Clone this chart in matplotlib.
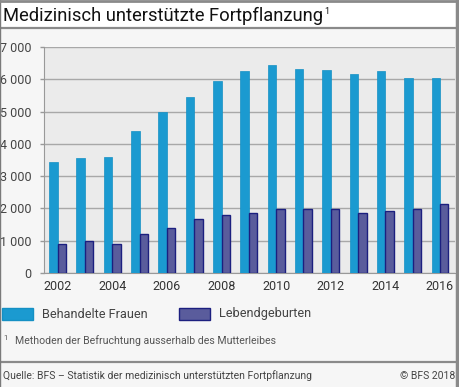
import matplotlib.pyplot as plt
import numpy as np
from matplotlib.patches import Rectangle
from matplotlib.lines import Line2D

# Daten
years = list(range(2002, 2017))
behandelte_frauen = [3450, 3550, 3590, 4390, 4975, 5460, 5935, 6265, 6450,
                     6325, 6295, 6170, 6245, 6040, 6030]
lebendgeburten = [890, 990, 890, 1215, 1395, 1660, 1795, 1870, 1980,
                  1980, 1980, 1870, 1930, 1980, 2135]
y_ticks = [0, 1000, 2000, 3000, 4000, 5000, 6000, 7000]
x_tick_years = list(range(2002, 2017, 2))

plt.rcParams['font.family'] = ['Roboto', 'DejaVu Sans']

fig = plt.figure(figsize=(4.6, 3.87), dpi=100)
fig.patch.set_facecolor('#f6f6f6')

# Titelbereich weiss
fig.add_artist(Rectangle((0, 1 - 28 / 387), 1, 28 / 387, transform=fig.transFigure,
                         facecolor='white', edgecolor='none', zorder=0))
title = fig.text(3 / 460, 1 - 16 / 387, 'Medizinisch unterstützte Fortpflanzung',
                 fontsize=13.2, color='#111111', va='center', ha='left')
fig.canvas.draw()
tb = title.get_window_extent()
fig.text((tb.x1 + 1) / 460, 1 - 11 / 387, '1', fontsize=6.5, color='#111111',
         va='center', ha='left')

# Trennlinien und Rahmen
for yy in [28, 362]:
    fig.add_artist(Line2D([0, 1], [1 - yy / 387] * 2, transform=fig.transFigure,
                          color='#8a8a8a', lw=1.6))
fig.add_artist(Line2D([0.4 / 460, 0.4 / 460], [0, 1], transform=fig.transFigure,
                      color='#7a7a7a', lw=1.0))
fig.add_artist(Line2D([457.5 / 460, 457.5 / 460], [0, 1], transform=fig.transFigure,
                      color='#8a8a8a', lw=2.5))
fig.add_artist(Line2D([0, 1], [1 - 0.8 / 387] * 2, transform=fig.transFigure,
                      color='#8a8a8a', lw=2))

ax = fig.add_axes([44 / 460, 1 - 273 / 387, (455 - 44) / 460, (273 - 47) / 387])
ax.set_facecolor('#ebebeb')

x = np.array(years)
w = 0.31
ax.bar(x - w / 2, behandelte_frauen, width=w, color='#1b9ad0',
       edgecolor='#1590c4', linewidth=0.5, zorder=3, label='Behandelte Frauen')
ax.bar(x + w / 2, lebendgeburten, width=w, color='#5a5c9c',
       edgecolor='#1c1f7f', linewidth=1.0, zorder=3, label='Lebendgeburten')

ax.set_xlim(2001.5, 2016.55)
ax.set_ylim(0, 7000)
ax.set_yticks(y_ticks)
ax.set_yticklabels([f"{v:,}".replace(',', ' ') for v in y_ticks])
ax.set_xticks(x_tick_years)
ax.set_xticklabels([str(v) for v in x_tick_years])
ax.yaxis.grid(True, color='#a8a8a8', lw=1.0, zorder=1)
ax.tick_params(axis='y', length=3, width=1, color='#999999', labelsize=9,
               labelcolor='#444444', pad=6)
ax.tick_params(axis='x', length=0, labelsize=9, labelcolor='#333333', pad=5)
for s in ['top', 'right']:
    ax.spines[s].set_visible(False)
ax.spines['left'].set_color('#999999')
ax.spines['bottom'].set_color('#999999')

# Legende von Hand
for px, label, fc, ec in [(2, 'Behandelte Frauen', '#1b9ad0', '#1590c4'),
                          (179, 'Lebendgeburten', '#5a5c9c', '#1c1f7f')]:
    fig.add_artist(Rectangle((px / 460, 1 - 320 / 387), 31 / 460, 12 / 387,
                             transform=fig.transFigure, facecolor=fc,
                             edgecolor=ec, lw=1))
    fig.text((px + 40) / 460, 1 - 314 / 387, label, fontsize=9.2,
             color='#444444', va='center', ha='left')

# Fussnote
fig.text(3 / 460, 1 - 338 / 387, '1', fontsize=5.5, color='#555555',
         va='center', ha='left')
fig.text(15 / 460, 1 - 341 / 387, 'Methoden der Befruchtung ausserhalb des Mutterleibes',
         fontsize=7.6, color='#555555', va='center', ha='left')

# Quelle
fig.text(3 / 460, 1 - 376 / 387,
         'Quelle: BFS – Statistik der medizinisch unterstützten Fortpflanzung',
         fontsize=7.5, color='#444444', va='center', ha='left')
fig.text(455 / 460, 1 - 376 / 387, '© BFS 2018', fontsize=7.5,
         color='#444444', va='center', ha='right')

fig.savefig('out.png', dpi=100, facecolor=fig.get_facecolor())
